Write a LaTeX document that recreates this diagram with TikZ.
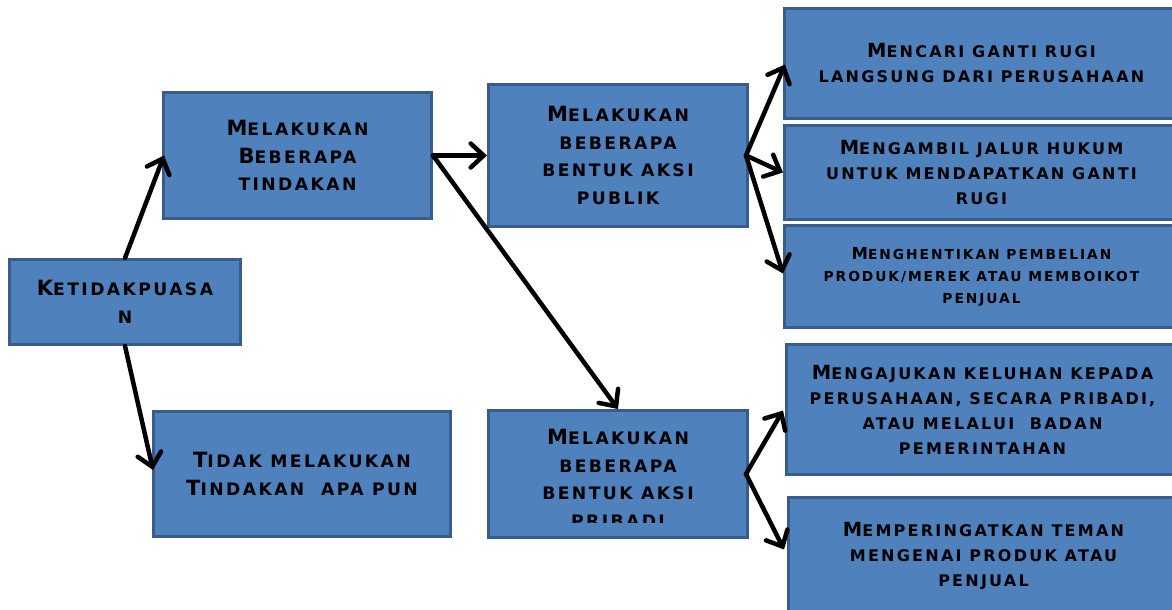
\documentclass[tikz,border=0pt]{standalone}
\usepackage{fontspec}
\usetikzlibrary{arrows.meta}
\newfontfamily\cop[LetterSpace=14]{DejaVu Sans}
\definecolor{boxfill}{HTML}{4F81BD}
\definecolor{boxline}{HTML}{385D8A}
\newcommand\K[1]{{\fontsize{21}{21}\selectfont #1}}
\newcommand\Kr[1]{{\fontsize{19.5}{19.5}\selectfont #1}}
\newcommand\Ks[1]{{\fontsize{16.5}{16.5}\selectfont #1}}
\tikzset{
  box/.style={draw=boxline, fill=boxfill, line width=3pt, rectangle, inner sep=0pt, align=center, text=black},
  txt/.style={font=\cop\bfseries\fontsize{17.2}{27.5}\selectfont},
  txtr/.style={font=\cop\bfseries\fontsize{16}{25}\selectfont},
  txts/.style={font=\cop\bfseries\fontsize{13.8}{22}\selectfont},
  link/.style={line width=4.5pt, line cap=round, -{Straight Barb[length=13pt,width=24pt,line cap=round]}},
}
\begin{document}
\begin{tikzpicture}[x=1pt,y=-1pt]
\clip (0,0) rectangle (1172,610);
\fill[white] (0,0) rectangle (1172,610);
% left boxes
\node[box, txt, minimum width=231pt, minimum height=85pt] (ket) at (125,302) {\K{K}ETIDAKPUASA\\N};
\node[box, txt, minimum width=268pt, minimum height=126pt] (tind) at (297.5,155.5) {\K{M}ELAKUKAN\\\K{B}EBERAPA\\TINDAKAN};
\node[box, txt, minimum width=297pt, minimum height=125pt] (tidak) at (302,474) {\K{T}IDAK MELAKUKAN\\\K{T}INDAKAN\ \ APA PUN};
% middle boxes
\node[box, txt, minimum width=259pt, minimum height=142pt] (pub) at (618,155.5) {\K{M}ELAKUKAN\\BEBERAPA\\BENTUK AKSI\\PUBLIK};
\node[box, minimum width=259pt, minimum height=127pt] (pribadi) at (618,474) {};
\begin{scope}
\clip (489,411) rectangle (747,522);
\node[txt, align=center, inner sep=0pt, yshift=-4.5pt] (pribaditext) at (pribadi.center) {\K{M}ELAKUKAN\\BEBERAPA\\BENTUK AKSI\\PRIBADI};
\end{scope}
% right boxes
\node[box, txtr, minimum width=394pt, minimum height=110pt] (mencari) at (981.5,63.5) {\Kr{M}ENCARI GANTI RUGI\\LANGSUNG DARI PERUSAHAAN};
\node[box, txtr, minimum width=394pt, minimum height=94pt] (mengambil) at (981.5,172.5) {\Kr{M}ENGAMBIL JALUR HUKUM\\UNTUK MENDAPATKAN GANTI\\RUGI};
\node[box, txts, minimum width=394pt, minimum height=102pt] (menghentikan) at (981.5,276.5) {\Ks{M}ENGHENTIKAN PEMBELIAN\\PRODUK/MEREK ATAU MEMBOIKOT\\PENJUAL};
\node[box, txtr, minimum width=392pt, minimum height=130pt] (mengajukan) at (982.5,409.5) {\Kr{M}ENGAJUKAN KELUHAN KEPADA\\PERUSAHAAN, SECARA PRIBADI,\\ATAU MELALUI\ \ BADAN\\PEMERINTAHAN};
\node[box, txtr, minimum width=390pt, minimum height=116pt] (memp) at (983.5,555.5) {\Kr{M}EMPERINGATKAN TEMAN\\MENGENAI PRODUK ATAU\\PENJUAL};
% connectors
\draw[link] (ket.north) -- ([xshift=2pt]tind.west);
\draw[link] (ket.south) -- ([xshift=1pt,yshift=4pt]tidak.west);
\draw[link] (tind.east) -- (pub.west);
\draw[link] (tind.east) -- (pribadi.north);
\draw[link] ([xshift=-3pt]pub.east) -- ([xshift=2pt,yshift=-1pt]mencari.west);
\draw[link] ([xshift=-3pt]pub.east) -- (mengambil.west);
\draw[link] ([xshift=-3pt]pub.east) -- ([yshift=3pt]menghentikan.west);
\draw[link] ([xshift=-3pt]pribadi.east) -- ([xshift=-2pt,yshift=-1pt]mengajukan.west);
\draw[link] ([xshift=-3pt]pribadi.east) -- ([xshift=-3pt,yshift=6pt]memp.west);
\end{tikzpicture}
\end{document}
